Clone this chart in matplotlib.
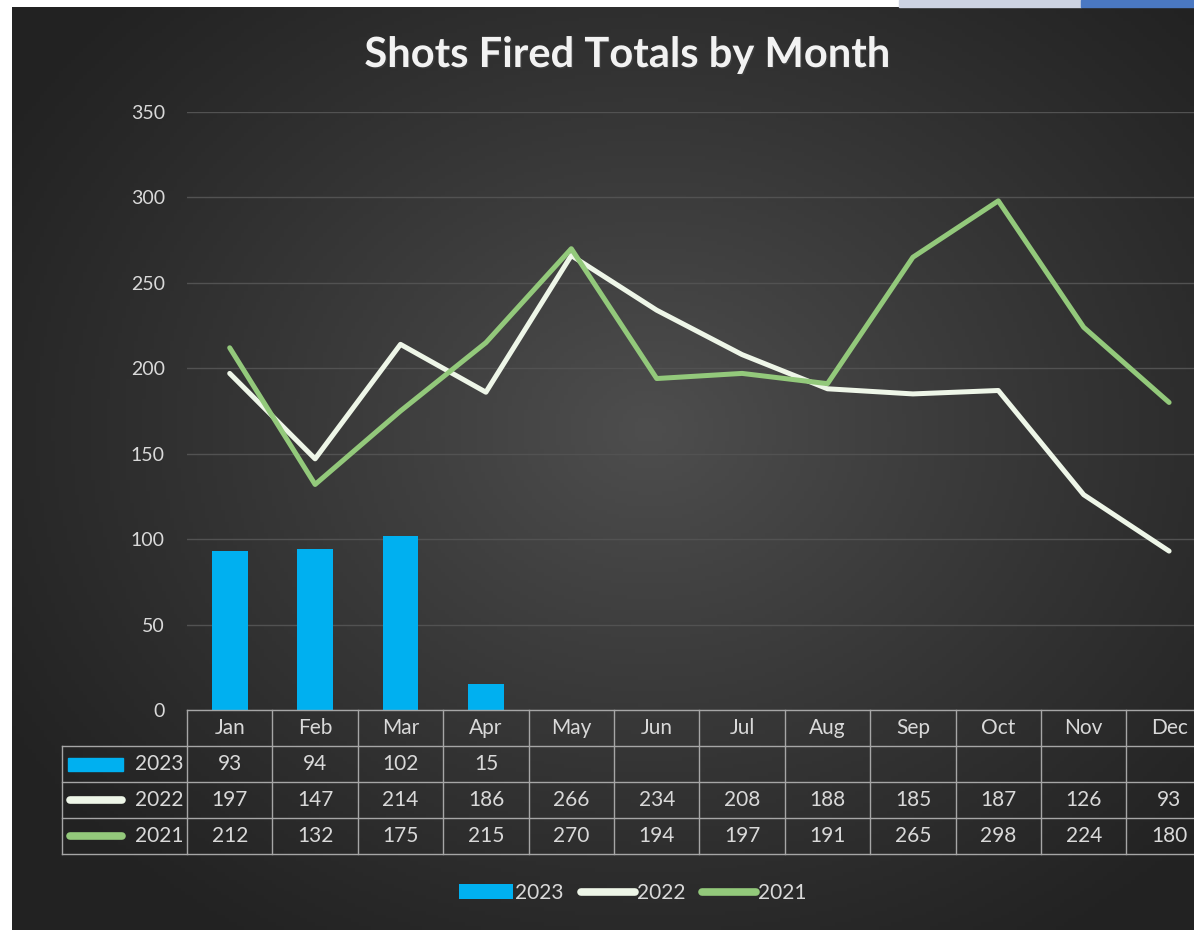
import numpy as np
import matplotlib.pyplot as plt
from matplotlib.transforms import blended_transform_factory
from matplotlib.patches import Rectangle, Patch
from matplotlib.lines import Line2D
import matplotlib.patheffects as pe

# data
months = ['Jan', 'Feb', 'Mar', 'Apr', 'May', 'Jun',
          'Jul', 'Aug', 'Sep', 'Oct', 'Nov', 'Dec']
shots_2023 = [93, 94, 102, 15]
shots_2022 = [197, 147, 214, 186, 266, 234, 208, 188, 185, 187, 126, 93]
shots_2021 = [212, 132, 175, 215, 270, 194, 197, 191, 265, 298, 224, 180]
y_ticks = [0, 50, 100, 150, 200, 250, 300, 350]

blue = '#00B0F0'
pale = '#EEF6E8'
green = '#93C97B'
txt = '#D9D9D9'
grid_col = '#A6A6A6'

W, H = 1194, 930
plt.rcParams['font.family'] = ['Lato', 'DejaVu Sans']

fig = plt.figure(figsize=(W / 100, H / 100), dpi=100, facecolor='white')

# dark radial gradient background
bg = fig.add_axes([12 / W, 0, 1 - 12 / W, 1 - 7 / H], zorder=-5)
xs = np.linspace(12, W, 300)
ys = np.linspace(7, H, 240)
X, Y = np.meshgrid(xs, ys)
d = np.sqrt(((X - 650) / 760) ** 2 + ((Y - 430) / 620) ** 2)
t = np.clip(1 - d, 0, 1) ** 1.1
inner = np.array([0x4e, 0x4e, 0x4e]) / 255
outer = np.array([0x22, 0x22, 0x22]) / 255
img = outer + (inner - outer) * t[..., None]
bg.imshow(img, extent=[0, 1, 0, 1], aspect='auto', origin='upper')
bg.axis('off')

# little window tab at the top right of the screenshot
fig.patches.append(Rectangle((899 / W, 1 - 7 / H), (1081 - 899) / W, 7 / H,
                             transform=fig.transFigure, color='#CDD3E2'))
fig.patches.append(Rectangle((1081 / W, 1 - 7 / H), (W - 1081) / W, 7 / H,
                             transform=fig.transFigure, color='#4A78C2'))

col_px = 85.4
ax = fig.add_axes([187 / W, (H - 710) / H, 12 * col_px / W, 598 / H])
ax.set_facecolor('none')
x = np.arange(len(months))

ax.bar(np.arange(len(shots_2023)), shots_2023, width=0.42, color=blue, zorder=3)
ax.plot(x, shots_2022, color=pale, lw=3.6, solid_capstyle='round',
        solid_joinstyle='round', zorder=4)
ax.plot(x, shots_2021, color=green, lw=3.6, solid_capstyle='round',
        solid_joinstyle='round', zorder=5)

ax.set_xlim(-0.5, 11.5)
ax.set_ylim(0, 350)
ax.set_yticks(y_ticks)
ax.set_xticks([])
ax.yaxis.grid(True, color='#525252', lw=1)
ax.set_axisbelow(True)
ax.tick_params(axis='y', length=0, labelcolor=txt, labelsize=14, pad=16)
for s in ax.spines.values():
    s.set_visible(False)

# data table under the plot
trans = blended_transform_factory(ax.transData, ax.transAxes)
row_h = 36 / 598
x_lab = -0.5 - 125 / col_px


def tline(xv, yv):
    ax.plot(xv, yv, color=grid_col, lw=1, transform=trans, clip_on=False, zorder=6)


tline([-0.5, 11.5], [0, 0])
for k in range(1, 5):
    tline([x_lab, 11.5], [-k * row_h, -k * row_h])
for i in range(13):
    tline([-0.5 + i, -0.5 + i], [0, -4 * row_h])
tline([x_lab, x_lab], [-row_h, -4 * row_h])

for i, m in enumerate(months):
    ax.text(i, -0.5 * row_h, m, ha='center', va='center', color=txt,
            fontsize=15, transform=trans, clip_on=False)

rows = [('2023', shots_2023), ('2022', shots_2022), ('2021', shots_2021)]
for r, (name, vals) in enumerate(rows):
    yc = -(r + 1.5) * row_h
    for i, v in enumerate(vals):
        ax.text(i, yc, str(v), ha='center', va='center', color=txt,
                fontsize=15, transform=trans, clip_on=False)
    ax.text(-0.5 - 3 / col_px, yc, name, ha='right', va='center', color=txt,
            fontsize=15, transform=trans, clip_on=False)

# legend keys inside the table row labels
kh = 13 / 598
ax.add_patch(Rectangle((x_lab + 6 / col_px, -1.5 * row_h - kh / 2), 55 / col_px, kh,
                       color=blue, transform=trans, clip_on=False))
for r, c in [(1, pale), (2, green)]:
    yc = -(r + 1.5) * row_h
    ax.plot([x_lab + 8 / col_px, x_lab + 60 / col_px], [yc, yc], color=c, lw=5.5,
            solid_capstyle='round', transform=trans, clip_on=False)

# title
fig.text(627 / W, 1 - 55 / H, 'Shots Fired Totals by Month', ha='center', va='center',
         fontsize=30, fontweight='bold', color='#F2F2F2',
         path_effects=[pe.withSimplePatchShadow(offset=(1, -1), alpha=0.5)])

# bottom legend
handles = [Patch(facecolor=blue),
           Line2D([], [], color=pale, lw=5.5, solid_capstyle='round'),
           Line2D([], [], color=green, lw=5.5, solid_capstyle='round')]
fig.legend(handles, ['2023', '2022', '2021'], loc='center',
           bbox_to_anchor=(633 / W, 1 - 893 / H), ncol=3, frameon=False,
           fontsize=15, labelcolor=txt, handlelength=2.6, handletextpad=0.1,
           columnspacing=0.8)

fig.savefig('out.png', dpi=100, facecolor=fig.get_facecolor())
